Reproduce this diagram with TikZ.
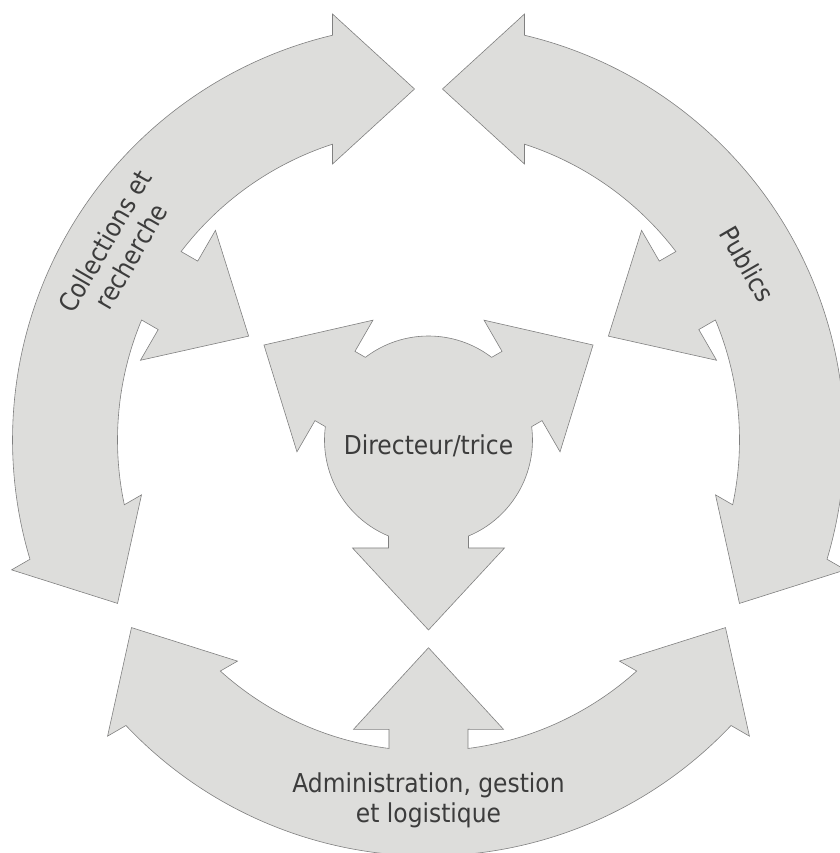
\documentclass[tikz,border=0pt]{standalone}
\usepackage{fontspec}
\setmainfont{DejaVu Sans Condensed}
\usepackage{xcolor}
\definecolor{shapefill}{RGB}{221,221,219}
\definecolor{shapeline}{RGB}{128,128,128}
\definecolor{labeltext}{RGB}{60,60,60}

\begin{document}
\begin{tikzpicture}[x=1pt, y=1pt]
        % ================= 样式定义 =================
        \tikzset{
            ring_shape/.style={draw=shapeline, line width=0.6pt, fill=shapefill, line join=miter},
            ring_label/.style={text=labeltext, font=\fontsize{26}{30}\selectfont, align=center, inner sep=0pt}
        }

        % 画布大小 (中心在原点)
        \useasboundingbox (-428.5,-413) rectangle (410.5,440);

        % ================= 外环:三段双向弧形箭头 =================
        % 以左段 (中心 150 度) 为模板, 旋转 120 与 240 度得到下段与右段
        \foreach \r in {0,120,240} {
            \begin{scope}[rotate=\r]
                \draw[ring_shape] (103.34:416) arc[start angle=103.34, end angle=196.66, radius=416]
                    -- (197.30:436.7) -- (207.72:351.3) -- (190.82:292.2) -- (192.02:311)
                    arc[start angle=192.02, end angle=157.30, radius=311]
                    -- (157.78:292.0) -- (164.53:298.9) -- (150:207.7) -- (135.47:298.9) -- (142.22:292.0) -- (142.70:311)
                    arc[start angle=142.70, end angle=107.98, radius=311]
                    -- (109.18:292.2) -- (92.28:351.3) -- (102.70:436.7) -- cycle;
            \end{scope}
        }

        % ================= 中心:带三个箭头的圆 =================
        \draw[ring_shape] (7.38:104)
            \foreach \a in {30,150,270} {
                -- ({\a-20.32}:115.17) -- ({\a-35.13}:132.06) -- (\a:190)
                -- ({\a+35.13}:132.06) -- ({\a+20.32}:115.17) -- ({\a+22.62}:104)
                arc[start angle=\a+22.62, end angle=\a+97.38, radius=104]
            } -- cycle;

        % ================= 文字 =================
        \node[ring_label, rotate=60] (collections) at (148.4:365) {Collections et\\recherche};
        \node[ring_label, rotate=-60] (publics) at (28.9:364) {Publics};
        \node[ring_label] (admin) at (0,-360) {Administration, gestion\\et logistique};
        \node[ring_label] (directeur) at (0,-5.5) {Directeur/trice};

    \end{tikzpicture}
\end{document}
